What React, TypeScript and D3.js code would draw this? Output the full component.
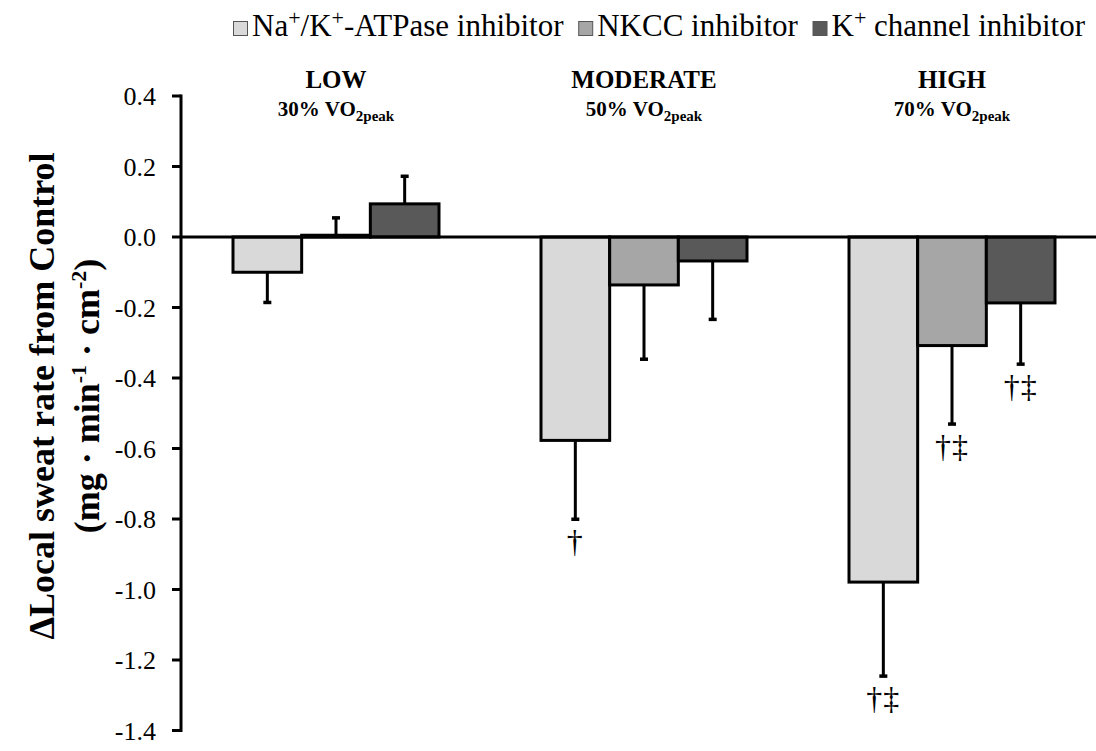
import React, { useLayoutEffect, useRef } from 'react';
import * as d3 from 'd3';

// Exercise intensities (x categories)
const groups = ['LOW', 'MODERATE', 'HIGH'];
const intensities = ['30%', '50%', '70%'];

// Series
const seriesNames = ['Na+/K+-ATPase inhibitor', 'NKCC inhibitor', 'K+ channel inhibitor'];
const seriesColors = ['#d9d9d9', '#a6a6a6', '#595959'];

// Mean change from control
const naKValues = [-0.1, -0.577, -0.979];
const nkccValues = [0.005, -0.136, -0.308];
const kChannelValues = [0.094, -0.068, -0.187];

// SD (drawn away from zero)
const naKErrors = [0.085, 0.223, 0.266];
const nkccErrors = [0.05, 0.21, 0.222];
const kChannelErrors = [0.079, 0.165, 0.173];

// significance marks
const naKMarks = ['', '†', '†‡'];
const nkccMarks = ['', '', '†‡'];
const kChannelMarks = ['', '', '†‡'];

const yTicks = [0.4, 0.2, 0.0, -0.2, -0.4, -0.6, -0.8, -1.0, -1.2, -1.4];

const W = 1096;
const H = 751;
const FONT = "'Liberation Serif', serif";

const legendParts: [string, boolean][][] = [
  [['Na', false], ['+', true], ['/K', false], ['+', true], ['-ATPase inhibitor', false]],
  [['NKCC inhibitor', false]],
  [['K', false], ['+', true], [' channel inhibitor', false]],
];

const App = () => {
  const legendRef = useRef<SVGGElement>(null);
  const axisX = 181;

  const y = d3.scaleLinear().domain([-1.4, 0.4]).range([730.5, 96]);
  const x0 = d3.scaleBand<string>().domain(groups).range([182, 1106]).padding(0);
  const groupWidth = 206;
  const x1 = d3.scaleBand<number>().domain([0, 1, 2]).range([0, groupWidth]).padding(0);

  const values = [naKValues, nkccValues, kChannelValues];
  const errors = [naKErrors, nkccErrors, kChannelErrors];
  const marks = [naKMarks, nkccMarks, kChannelMarks];

  const bars = groups.flatMap((g, gi) =>
    values.map((vals, si) => {
      const v = vals[gi];
      const e = errors[si][gi];
      const x = (x0(g) as number) + (x0.bandwidth() - groupWidth) / 2 + (x1(si) as number);
      const end = v < 0 ? v - e : v + e;
      return { key: `${g}-${si}`, si, v, x, w: x1.bandwidth(), end, mark: marks[si][gi] };
    })
  );

  // lay the legend out from 233 to 1085, spreading the gaps evenly
  useLayoutEffect(() => {
    if (!legendRef.current) return;
    const items = d3.select(legendRef.current).selectAll<SVGGElement, unknown>('g.item');
    const widths = items.nodes().map(n => (n.querySelector('text') as SVGTextElement).getComputedTextLength() + 19);
    const start = 233;
    const end = 1085;
    const gap = (end - start - d3.sum(widths)) / (widths.length - 1);
    let x = start;
    items.each(function (_, i) {
      d3.select(this).attr('transform', `translate(${x},0)`);
      x += widths[i] + gap;
    });
  }, []);

  return (
    <svg
      width={W}
      height={H}
      style={{ position: 'absolute', left: 0, top: 0, background: '#fff', fontFamily: FONT }}
    >
      <title>{seriesNames.join(', ')}</title>
      {/* legend */}
      <g ref={legendRef}>
        {legendParts.map((parts, i) => (
          <g key={i} className="item">
            <rect x={0.5} y={21.5} width={14} height={14} fill={seriesColors[i]} stroke="#555" strokeWidth={1} />
            <text x={19} y={36} fontSize={31} fill="#000" style={{ fontFamily: FONT }}>
              {parts.map(([t, sup], j) => (
                <tspan key={j} dy={sup ? -11 : j > 0 && parts[j - 1][1] ? 11 : 0} fontSize={sup ? 22 : 31}>
                  {t}
                </tspan>
              ))}
            </text>
          </g>
        ))}
      </g>

      {/* group labels */}
      {groups.map((g, gi) => {
        const cx = (x0(g) as number) + x0.bandwidth() / 2;
        return (
          <g key={g} style={{ fontFamily: FONT }}>
            <text x={cx} y={88} textAnchor="middle" fontSize={25} fontWeight="bold">{g}</text>
            <text x={cx} y={116} textAnchor="middle" fontSize={21} fontWeight="bold">
              {intensities[gi]} VO
              <tspan dy={5} fontSize={15}>2peak</tspan>
            </text>
          </g>
        );
      })}

      {/* bars */}
      {bars.map(b => (
        <rect
          key={b.key}
          x={b.x}
          y={Math.min(y(b.v), y(0))}
          width={b.w}
          height={Math.abs(y(b.v) - y(0))}
          fill={seriesColors[b.si]}
          stroke="#000"
          strokeWidth={3}
        />
      ))}

      {/* error bars */}
      {bars.map(b => {
        const cx = b.x + b.w / 2;
        return (
          <g key={`e-${b.key}`}>
            <line x1={cx} x2={cx} y1={y(b.v)} y2={y(b.end)} stroke="#000" strokeWidth={3} />
            <rect x={cx - 4} y={y(b.end) - 1.5} width={8} height={3.5} fill="#000" />
            {b.mark && (
              <text x={cx} y={y(b.end) + 33} textAnchor="middle" fontSize={32} letterSpacing={1} style={{ fontFamily: FONT }}>
                {b.mark}
              </text>
            )}
          </g>
        );
      })}

      {/* zero line */}
      <line x1={axisX} x2={W} y1={y(0)} y2={y(0)} stroke="#000" strokeWidth={3} />

      {/* y axis */}
      <line x1={axisX} x2={axisX} y1={y(0.4) - 1.5} y2={y(-1.4) + 1.5} stroke="#000" strokeWidth={3} />
      {yTicks.map(t => (
        <g key={t}>
          <line x1={axisX - 9} x2={axisX} y1={y(t)} y2={y(t)} stroke="#000" strokeWidth={3} />
          <text x={156} y={y(t) + 9} textAnchor="end" fontSize={26} style={{ fontFamily: FONT }}>{t.toFixed(1)}</text>
        </g>
      ))}

      {/* y title */}
      <g transform="translate(54,396) rotate(-90)" style={{ fontFamily: FONT }}>
        <text x={0} y={0} textAnchor="middle" fontSize={36} fontWeight="bold">ΔLocal sweat rate from Control</text>
        <text x={0} y={45} textAnchor="middle" fontSize={36} fontWeight="bold">
          (mg · min
          <tspan dy={-13} fontSize={22}>-1</tspan>
          <tspan dy={13}> · cm</tspan>
          <tspan dy={-13} fontSize={22}>-2</tspan>
          <tspan dy={13}>)</tspan>
        </text>
      </g>
    </svg>
  );
};

export default App;
